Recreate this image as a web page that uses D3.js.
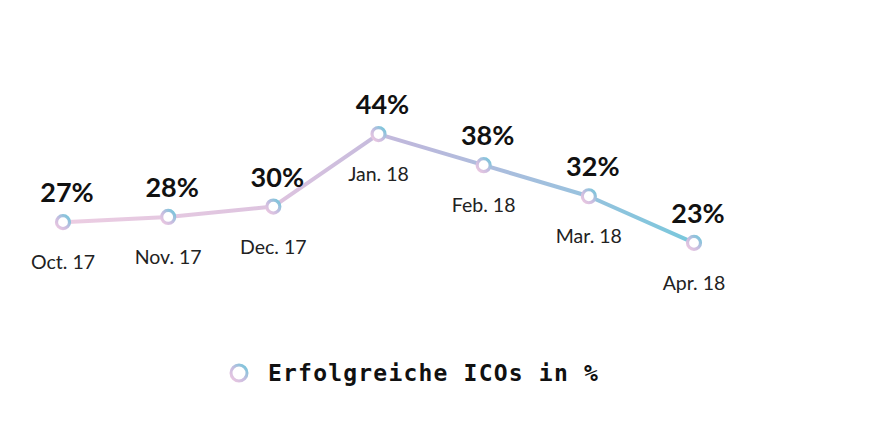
<!DOCTYPE html>
<html><head><meta charset="utf-8">
<script src="https://cdn.jsdelivr.net/npm/d3@7"></script>
<style>body{margin:0;background:#fff}svg{display:block}</style>
</head><body>
<svg id="c" width="886" height="448"></svg>
<script>
const categories = ["Oct. 17","Nov. 17","Dec. 17","Jan. 18","Feb. 18","Mar. 18","Apr. 18"];
const values = [27, 28, 30, 44, 38, 32, 23];
const seriesName = "Erfolgreiche ICOs in %";

const svg = d3.select("#c");
const x = d3.scalePoint().domain(categories).range([63, 694]);
const y = d3.scaleLinear().domain([0, 50]).range([362, 103]);

const defs = svg.append("defs");
const lg = defs.append("linearGradient").attr("id","lineGrad")
  .attr("gradientUnits","userSpaceOnUse")
  .attr("x1", x(categories[0])).attr("x2", x(categories[categories.length-1])).attr("y1",0).attr("y2",0);
lg.append("stop").attr("offset","0%").attr("stop-color","#eccde2");
lg.append("stop").attr("offset","35%").attr("stop-color","#dcc3df");
lg.append("stop").attr("offset","55%").attr("stop-color","#bdb8dc");
lg.append("stop").attr("offset","80%").attr("stop-color","#9cc1de");
lg.append("stop").attr("offset","100%").attr("stop-color","#78c8dc");

const mg = defs.append("linearGradient").attr("id","markGrad")
  .attr("x1",0).attr("y1",1).attr("x2",1).attr("y2",0);
mg.append("stop").attr("offset","0%").attr("stop-color","#efc9e1");
mg.append("stop").attr("offset","45%").attr("stop-color","#c9bde0");
mg.append("stop").attr("offset","100%").attr("stop-color","#6fc6da");

const line = d3.line().x((d,i)=>x(categories[i])).y(d=>y(d));
svg.append("path").datum(values).attr("d", line)
  .attr("fill","none").attr("stroke","url(#lineGrad)").attr("stroke-width",4)
  .attr("stroke-linejoin","round");

svg.selectAll("circle.pt").data(values).join("circle").attr("class","pt")
  .attr("cx",(d,i)=>x(categories[i])).attr("cy",d=>y(d)).attr("r",6.5)
  .attr("fill","#fff").attr("stroke","url(#markGrad)").attr("stroke-width",3.2);

svg.selectAll("text.val").data(values).join("text").attr("class","val")
  .attr("x",(d,i)=>x(categories[i])+4).attr("y",d=>y(d)-20)
  .attr("text-anchor","middle").attr("font-family","Lato, sans-serif")
  .attr("font-weight","bold").attr("font-size",27).attr("fill","#111")
  .text(d=>d+"%");

svg.selectAll("text.cat").data(values).join("text").attr("class","cat")
  .attr("x",(d,i)=>x(categories[i])).attr("y",d=>y(d)+47)
  .attr("text-anchor","middle").attr("font-family","Lato, sans-serif")
  .attr("font-size",19.5).attr("fill","#222")
  .text((d,i)=>categories[i]);

const leg = svg.append("g");
leg.append("circle").attr("cx",239).attr("cy",373).attr("r",8)
  .attr("fill","#fff").attr("stroke","url(#markGrad)").attr("stroke-width",3);
leg.append("text").attr("x",268).attr("y",381)
  .attr("font-family","'DejaVu Sans Mono', monospace").attr("font-weight","bold")
  .attr("font-size",23).attr("letter-spacing",1.2).attr("fill","#111")
  .text(seriesName);
</script>
</body></html>
